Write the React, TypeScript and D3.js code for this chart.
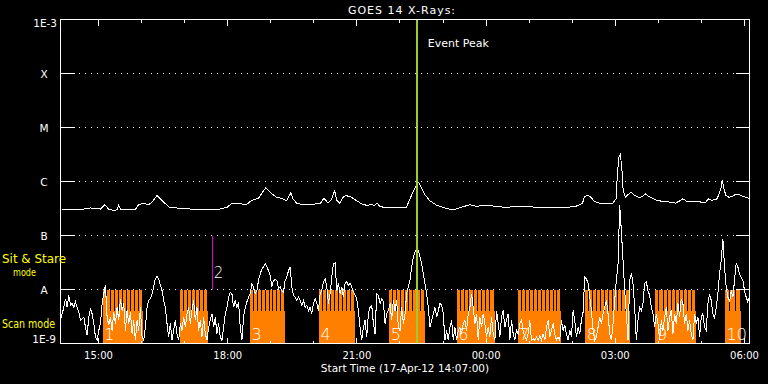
import React from 'react';
import * as d3 from 'd3';

// ---------- data ----------
const START = '2012-04-17 14:07';
const END = '2012-04-18 06:07';
const TITLE = 'GOES 14 X-Rays:';
const X_TITLE = 'Start Time (17-Apr-12 14:07:00)';

const levelFlux = [1e-9, 1e-8, 1e-7, 1e-6, 1e-5, 1e-4, 1e-3];
const levelLabels = ['1E-9', 'A', 'B', 'C', 'M', 'X', '1E-3'];
const gridFlux = [1e-8, 1e-7, 1e-6, 1e-5, 1e-4];

const EVENT_PEAK = '2012-04-17 22:24';
const MARKER_TIME = '2012-04-17 17:39';
const MARKER_LABEL = '2';
const MARKER_FLUX = [1e-8, 1e-7];

// observation blocks
const blockStart = ['2012-04-17 15:06', '2012-04-17 16:53', '2012-04-17 18:31', '2012-04-17 20:07', '2012-04-17 21:45',
  '2012-04-17 23:19', '2012-04-18 00:44', '2012-04-18 02:18', '2012-04-18 03:56', '2012-04-18 05:33'];
const blockEnd = ['2012-04-17 16:02', '2012-04-17 17:32', '2012-04-17 19:20', '2012-04-17 20:57', '2012-04-17 22:35',
  '2012-04-18 00:12', '2012-04-18 01:45', '2012-04-18 03:20', '2012-04-18 04:52', '2012-04-18 05:55'];
const blockCount = [10, 7, 9, 9, 9, 9, 11, 11, 10, 3];
const blockLabels = ['1', '', '3', '4', '5', '6', '7', '8', '9', '10'];
const SIT_STARE_TOP = 1e-8;
const SCAN_TOP = 4e-9;

// short channel: log10 flux, evenly sampled over the window
const shortLog = [
  -8.57,-8.45,-8.33,-8.17,-8.33,-8.11,-8.29,-8.26,-8.33,-8.23,
  -8.33,-8.42,-8.57,-8.54,-8.51,-8.70,-8.85,-8.51,-8.36,-8.45,
  -8.63,-8.88,-8.94,-8.76,-8.63,-8.26,-8.08,-7.92,-8.51,-8.66,
  -8.51,-8.76,-8.42,-8.63,-8.33,-8.57,-8.17,-8.39,-8.26,-8.76,
  -8.39,-8.63,-8.42,-8.82,-8.57,-8.94,-8.57,-8.76,-8.33,-8.88,
  -8.94,-8.70,-8.33,-8.20,-8.17,-8.08,-7.95,-7.80,-7.76,-7.80,
  -7.92,-8.02,-8.20,-8.33,-8.63,-8.88,-8.63,-8.94,-8.76,-8.57,
  -8.82,-8.94,-8.63,-8.76,-8.51,-8.70,-8.45,-8.33,-8.63,-8.39,
  -8.20,-8.57,-8.33,-8.76,-8.57,-8.88,-8.51,-8.82,-8.94,-8.70,
  -8.57,-8.45,-8.70,-8.51,-8.82,-8.63,-8.88,-8.94,-8.70,-8.45,
  -8.33,-8.14,-8.05,-8.08,-8.33,
  -8.20,-8.33,-8.23,-8.70,-8.94,-8.51,-8.33,-8.23,-8.14,-8.08,
  -7.89,-7.95,-8.08,-8.02,-7.83,-7.71,-7.62,-7.58,-7.52,-7.58,
  -7.65,-7.74,-7.95,-7.83,-7.82,-7.83,-7.99,-7.95,-8.02,-8.05,
  -7.83,-7.77,-7.65,-7.58,-7.95,-8.11,-8.14,-8.20,-8.14,-8.20,
  -8.29,-8.20,-8.33,-8.29,-8.39,-8.33,-8.45,-8.26,-8.17,-8.26,
  -8.39,-8.08,-8.02,-7.86,-7.80,-7.95,-8.26,-8.08,-7.77,-7.52,
  -7.51,-8.02,-7.89,-8.08,-7.95,-8.14,-7.89,-7.86,-7.92,-7.89,
  -7.95,-8.05,-8.11,-8.17,-8.39,-8.70,-8.94,-8.70,-8.57,-8.88,
  -8.45,-8.33,-8.29,-8.63,-8.82,-8.08,-8.11,-8.26,-8.17,-8.23,
  -8.63,-8.45,-8.39,-8.26,-8.57,-8.20,-8.39,-8.20,-8.70,-8.76,
  -8.33,-8.63,-8.45,-8.08,-7.95,
  -7.83,-7.58,-7.40,-7.31,-7.25,-7.28,-7.40,-7.52,-7.71,-7.89,
  -8.08,-8.33,-8.70,-8.57,-8.45,-8.33,-8.51,-8.39,-8.26,-8.29,
  -8.45,-8.94,-8.76,-8.94,-8.70,-8.57,-8.94,-8.70,-8.94,-8.76,
  -8.70,-8.82,-8.63,-8.57,-8.76,-8.45,-8.33,-8.08,-8.33,-8.63,
  -8.45,-8.94,-8.51,-8.70,-8.45,-8.63,-8.88,-8.70,-8.88,-8.51,
  -8.82,-8.94,-8.39,-8.63,-8.88,-8.51,-8.39,-8.70,-8.57,-8.45,
  -8.94,-8.57,-8.82,-8.94,-8.76,-8.82,-8.63,-8.57,-8.76,-8.88,
  -8.94,-8.82,-8.57,-8.94,-8.91,-8.94,-8.88,-8.94,-8.85,-8.94,
  -8.82,-8.94,-8.70,-8.57,-8.88,-8.76,-8.63,-8.82,-8.94,-8.88,
  -8.94,-8.57,-8.76,-8.66,-8.82,-8.94,-8.76,-8.88,-8.39,-8.57,
  -8.88,-8.70,-8.82,-8.57,-8.42,
  -7.77,-7.80,-7.89,-8.14,-8.39,-8.76,-8.94,-8.88,-8.70,-8.51,
  -8.63,-8.45,-8.33,-8.20,-8.45,-8.82,-8.94,-8.63,-8.20,-7.83,
  -7.52,-6.44,-6.91,-7.46,-8.02,-8.45,-8.94,-7.83,-7.70,-7.89,
  -8.33,-8.94,-8.57,-8.33,-8.39,-8.26,-7.89,-7.86,-8.02,-8.11,
  -8.33,-8.45,-8.70,-8.45,-8.63,-8.94,-8.57,-8.76,-8.51,-8.33,
  -8.76,-8.51,-8.39,-8.82,-8.45,-8.63,-8.26,-8.51,-8.17,-8.26,
  -8.63,-8.45,-8.76,-8.57,-8.82,-8.94,-8.45,-8.63,-8.51,-8.88,
  -8.51,-8.45,-8.70,-8.76,-8.26,-8.08,-8.20,-8.45,-8.54,-8.33,
  -8.08,-7.71,-7.46,-7.06,-7.58,-7.95,-8.14,-8.23,-8.02,-8.14,
  -7.83,-7.52,-7.58,-7.71,-7.77,-7.83,-8.02,-8.14,-8.23,-8.14,
];

// long channel: minutes after start, log10 flux
const longMin = [1.4,13.9,27.8,41.7,55.6,61.6,67.1,74.1,78.8,81,83.4,92.7,104.2,108.8,115.8,122.7,127.5,134.4,139,146,153,162,181,208,222,232,239,250,259,266,276,283,286,292,301,310,315,321,324,329,338,352,359,362,367,373,378,382,385,389,394,398,405,412,419,426,433,438,441,445,454,468,473,482,486,493,498,500,507,514,524,533,542,549,558,570,579,593,607,621,635,649,663,676,690,704,718,727,730,734,739,744,751,760,769,774,776,778,780,782,784,787,790,795,799,806,811,815,820,829,839,848,857,864,867,873,883,892,899,903,908,915,920,922,924,927,931,936,941,945,952,959];
const longLog = [-6.51,-6.51,-6.52,-6.49,-6.51,-6.43,-6.51,-6.54,-6.52,-6.44,-6.51,-6.52,-6.52,-6.43,-6.40,-6.43,-6.38,-6.26,-6.32,-6.41,-6.49,-6.49,-6.51,-6.51,-6.51,-6.48,-6.40,-6.41,-6.43,-6.35,-6.31,-6.17,-6.12,-6.20,-6.29,-6.32,-6.36,-6.21,-6.32,-6.40,-6.43,-6.43,-6.40,-6.41,-6.31,-6.40,-6.32,-6.17,-6.35,-6.40,-6.29,-6.26,-6.29,-6.35,-6.41,-6.44,-6.43,-6.44,-6.40,-6.46,-6.49,-6.49,-6.48,-6.48,-6.35,-6.14,-6.01,-6.04,-6.23,-6.35,-6.44,-6.48,-6.51,-6.52,-6.48,-6.43,-6.46,-6.44,-6.46,-6.48,-6.46,-6.46,-6.48,-6.49,-6.49,-6.48,-6.46,-6.41,-6.29,-6.25,-6.29,-6.37,-6.40,-6.41,-6.41,-6.32,-5.86,-5.55,-5.50,-5.73,-6.17,-6.29,-6.25,-6.20,-6.25,-6.30,-6.28,-6.23,-6.28,-6.34,-6.37,-6.38,-6.40,-6.35,-6.32,-6.37,-6.37,-6.38,-6.38,-6.32,-6.35,-6.32,-6.14,-5.98,-6.11,-6.26,-6.29,-6.28,-6.23,-6.24,-6.28,-6.31];

// ---------- layout ----------
const W = 768, H = 384;
const PL = 60.5, PR = 749.5, PT = 19.5, PB = 343.5;
const FONT = 'DejaVu Sans';
const ORANGE = '#ff8000';
const GREEN = '#9acd32';
const MAGENTA = '#dd00dd';
const YELLOW = '#ffff00';

const parse = d3.timeParse('%Y-%m-%d %H:%M');

export default function App() {
  const t0 = parse(START)!;
  const t1 = parse(END)!;
  const x = d3.scaleTime().domain([t0, t1]).range([PL, PR]);
  const y = d3.scaleLog().domain([1e-9, 1e-3]).range([PB, PT]);
  const step = (t1.getTime() - t0.getTime()) / (shortLog.length - 1);

  const shortPath = d3.line<number>()
    .x((_, i) => x(new Date(t0.getTime() + i * step)))
    .y(d => y(Math.pow(10, d)))(shortLog) || '';
  const longPath = d3.line<number>()
    .x((_, i) => x(new Date(t0.getTime() + longMin[i] * 60000)))
    .y(d => y(Math.pow(10, d)))(longLog) || '';

  const major = x.ticks(d3.timeHour.every(3)!);
  const minor = x.ticks(d3.timeHour.every(1)!);
  const fmt = d3.timeFormat('%H:%M');

  const ySit = y(SIT_STARE_TOP);
  const yScan = y(SCAN_TOP);

  const xe = x(parse(EVENT_PEAK)!);
  const xm = x(parse(MARKER_TIME)!);

  return (
    <div style={{ position: 'absolute', left: 0, top: 0 }}>
      <svg width={W} height={H} style={{ display: 'block', background: '#000' }} fontFamily={FONT}>
        <rect x={0} y={0} width={W} height={H} fill="#000" />
        <defs>
          <clipPath id="plot">
            <rect x={PL} y={PT} width={PR - PL} height={PB - PT} />
          </clipPath>
        </defs>

        {/* observation blocks */}
        <g shapeRendering="crispEdges">
          {blockStart.map((s, b) => {
            const xs = x(parse(s)!);
            const xe2 = x(parse(blockEnd[b])!);
            const n = blockCount[b];
            const w = (xe2 - xs) / n;
            return (
              <g key={b}>
                <rect x={xs} y={yScan} width={xe2 - xs} height={PB - yScan} fill={ORANGE} />
                {d3.range(n).map(i => (
                  <rect key={i} x={xs + i * w} y={ySit} width={Math.max(1, w - 1)} height={yScan - ySit + 0.5} fill={ORANGE} />
                ))}
              </g>
            );
          })}
        </g>

        {/* dotted grid */}
        <g shapeRendering="crispEdges">
          {gridFlux.map((f, i) => (
            <line key={i} x1={PL} x2={PR} y1={Math.floor(y(f)) + 0.5} y2={Math.floor(y(f)) + 0.5}
              stroke="#fff" strokeWidth={1} strokeDasharray="1 5" />
          ))}
        </g>

        {/* curves */}
        <g clipPath="url(#plot)" fill="none" stroke="#fff" strokeWidth={1} shapeRendering="crispEdges">
          <path d={longPath} />
          <path d={shortPath} />
        </g>

        {/* block labels */}
        {blockStart.map((s, b) => (
          <text key={b} x={x(parse(s)!) + 1.5} y={339.5} fill="#fff" fontSize={16} fontWeight={200}>{blockLabels[b]}</text>
        ))}

        {/* event peak line */}
        <line x1={xe} x2={xe} y1={PT} y2={PB} stroke={GREEN} strokeWidth={2} shapeRendering="crispEdges" />
        <text x={xe + 10.5} y={47} fill="#fff" fontSize={11}>Event Peak</text>

        {/* marker */}
        <line x1={Math.floor(xm) + 0.5} x2={Math.floor(xm) + 0.5} y1={y(MARKER_FLUX[1])} y2={y(MARKER_FLUX[0])}
          stroke={MAGENTA} strokeWidth={1} shapeRendering="crispEdges" />
        <text x={xm + 1} y={278} fill="#fff" fontSize={15} fontWeight={200}>{MARKER_LABEL}</text>

        {/* frame and ticks */}
        <g stroke="#fff" strokeWidth={1} shapeRendering="crispEdges" fill="none">
          <rect x={PL} y={PT} width={PR - PL} height={PB - PT} />
          {levelFlux.map((f, i) => {
            const yy = Math.floor(y(f)) + 0.5;
            return (
              <g key={i}>
                <line x1={PL} x2={PL + 14} y1={yy} y2={yy} />
                <line x1={PR - 14} x2={PR} y1={yy} y2={yy} />
              </g>
            );
          })}
          {minor.map((t, i) => {
            const xx = Math.floor(x(t)) + 0.5;
            return (
              <g key={i}>
                <line x1={xx} x2={xx} y1={PT} y2={PT + 3} />
                <line x1={xx} x2={xx} y1={PB} y2={PB - 3} />
              </g>
            );
          })}
          {major.map((t, i) => {
            const xx = Math.floor(x(t)) + 0.5;
            return (
              <g key={i}>
                <line x1={xx} x2={xx} y1={PT} y2={PT + 6} />
                <line x1={xx} x2={xx} y1={PB} y2={PB - 6} />
              </g>
            );
          })}
        </g>

        {/* y labels */}
        {levelFlux.map((f, i) => {
          const lab = levelLabels[i];
          if (i === 0) return <text key={i} x={56} y={343} fill="#fff" fontSize={10.5} textAnchor="end">{lab}</text>;
          if (i === levelFlux.length - 1) return <text key={i} x={57} y={27} fill="#fff" fontSize={10.5} textAnchor="end">{lab}</text>;
          return <text key={i} x={44} y={y(f) + 4} fill="#fff" fontSize={10.5} textAnchor="middle">{lab}</text>;
        })}

        {/* x labels */}
        {major.map((t, i) => (
          <text key={i} x={x(t)} y={359} fill="#fff" fontSize={10} textAnchor="middle">{fmt(t)}</text>
        ))}
        <text x={(PL + PR) / 2} y={371.5} fill="#fff" fontSize={10.5} textAnchor="middle">{X_TITLE}</text>
        <text x={402} y={13.5} fill="#fff" fontSize={11} textAnchor="middle" letterSpacing={1}>{TITLE}</text>

        {/* mode labels */}
        <text x={2} y={262.5} fill={YELLOW} fontSize={12} textLength={64} lengthAdjust="spacingAndGlyphs">Sit &amp; Stare</text>
        <text x={13} y={275.5} fill={YELLOW} fontSize={10} textLength={23} lengthAdjust="spacingAndGlyphs">mode</text>
        <text x={2} y={328} fill={YELLOW} fontSize={12} textLength={53} lengthAdjust="spacingAndGlyphs">Scan mode</text>
      </svg>
    </div>
  );
}
